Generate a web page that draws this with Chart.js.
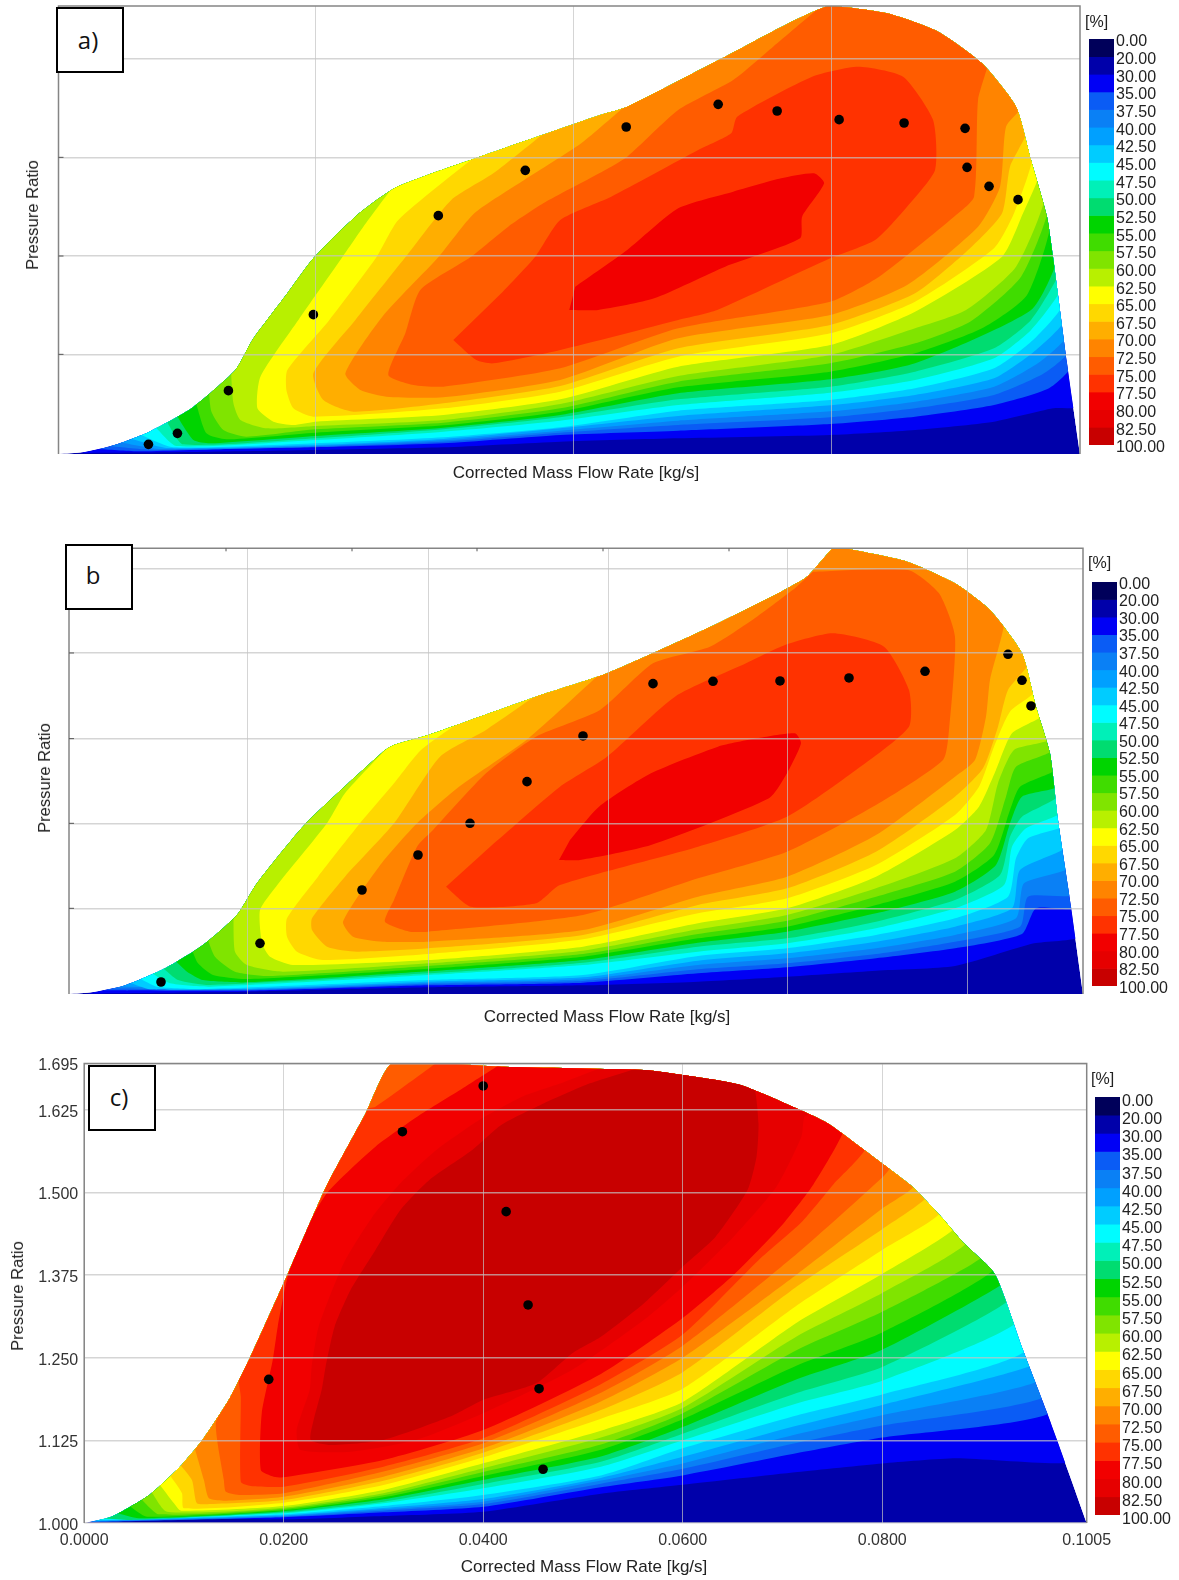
<!DOCTYPE html>
<html>
<head>
<meta charset="utf-8">
<title>Efficiency maps</title>
<script src="https://cdn.jsdelivr.net/npm/chart.js@4"></script>
<style>
  html, body { margin: 0; padding: 0; background: #fff; }
  body { position: relative; width: 1179px; height: 1580px; overflow: hidden; font-family: "Liberation Sans", Arial, sans-serif; }
  canvas { position: absolute; filter: blur(0.5px); }
  .cap { position: absolute; color: #222; font-size: 17px; white-space: nowrap; transform: translate(-50%, -50%); filter: blur(0.3px); }
  .cap.rot { font-size: 16.6px; transform: translate(-50%, -50%) rotate(-90deg); }
  .pct { position: absolute; color: #222; font-size: 16px; transform: translateY(-50%); filter: blur(0.3px); }
  .tag { position: absolute; box-sizing: border-box; background: #fff; border: 2px solid #000; font-family: "Open Sans", sans-serif; font-size: 24px; color: #111; }
  .tag span { position: absolute; transform: translate(-50%, -50%); }
</style>
</head>
<body>
<canvas id="mapA" width="1179" height="500" style="left:0;top:0"></canvas>
<canvas id="barA" width="90" height="446" style="left:1089px;top:19px"></canvas>
<canvas id="mapB" width="1179" height="500" style="left:0;top:530px"></canvas>
<canvas id="barB" width="90" height="444" style="left:1092px;top:562px"></canvas>
<canvas id="mapC" width="1179" height="540" style="left:0;top:1040px"></canvas>
<canvas id="barC" width="90" height="458" style="left:1095px;top:1077px"></canvas>

<div class="cap" style="left:576px;top:473px">Corrected Mass Flow Rate [kg/s]</div>
<div class="cap rot" style="left:33px;top:215px">Pressure Ratio</div>
<div class="pct" style="left:1085px;top:22px">[%]</div>
<div class="tag" style="left:56px;top:7px;width:68px;height:66px"><span style="left:30px;top:30px">a)</span></div>

<div class="cap" style="left:607px;top:1017px">Corrected Mass Flow Rate [kg/s]</div>
<div class="cap rot" style="left:45px;top:778px">Pressure Ratio</div>
<div class="pct" style="left:1088px;top:563px">[%]</div>
<div class="tag" style="left:65px;top:544px;width:68px;height:66px"><span style="left:26px;top:28px">b</span></div>

<div class="cap" style="left:584px;top:1567px">Corrected Mass Flow Rate [kg/s]</div>
<div class="cap rot" style="left:18px;top:1296px">Pressure Ratio</div>
<div class="pct" style="left:1091px;top:1079px">[%]</div>
<div class="tag" style="left:88px;top:1065px;width:68px;height:66px"><span style="left:29px;top:29px">c)</span></div>

<script>
// colour scale, one cell between each pair of labels
const levelLabels = ['0.00', '20.00', '30.00', '35.00', '37.50', '40.00', '42.50', '45.00', '47.50', '50.00', '52.50', '55.00', '57.50', '60.00', '62.50', '65.00', '67.50', '70.00', '72.50', '75.00', '77.50', '80.00', '82.50', '100.00'];
const levelColors = ['#00005a', '#0000aa', '#0000f5', '#0a5cf5', '#0a80f5', '#00a0ff', '#00ccff', '#00fcff', '#00f0b8', '#00dc70', '#00d400', '#40dc00', '#80e400', '#b8f000', '#ffff00', '#ffd800', '#ffae00', '#ff8400', '#ff5c00', '#ff3200', '#f20000', '#e60000', '#c80000'];

// contours are [mass flow, pressure ratio]. A first/last entry with only a mass flow sits on the map outline.

// ---- map a
const aGridX = [0.02575, 0.0515, 0.0773];
const aGridY = [1.1495, 1.297, 1.445, 1.593];
const aDots = [[.0090,1.0145],[.0119,1.031],[.0170,1.095],[.0255,1.209],[.0380,1.3575],[.0467,1.4255],[.0568,1.4905],[.0660,1.5245],[.0719,1.5145],[.0781,1.5015],[.0846,1.4965],[.0907,1.4885],[.0909,1.430],[.0931,1.4015],[.0960,1.3815]];
const aOutline = [[0,1],[.0024,1.0025],[.0056,1.0135],[.0091,1.0335],[.0133,1.0685],[.0177,1.126],[.0194,1.171],[.0229,1.241],[.0255,1.2935],[.0297,1.356],[.0338,1.400],[.0420,1.445],[.0542,1.5085],[.0569,1.521],[.0667,1.596],[.0770,1.672],[.0829,1.661],[.0880,1.6335],[.0924,1.586],[.0958,1.521],[.0973,1.441],[.0989,1.356],[.0995,1.296],[.1009,1.136],[.1022,1]];
const aL30 = [[.0028],[.0133,1.003],[.0257,1.006],[.0385,1.01],[.0502,1.0185],[.0620,1.0235],[.0772,1.0285],[.0857,1.036],[.0936,1.0485],[.0995,1.0685],[.1015]];
const aL35 = [[.0045],[.0079,1.004],[.0171,1.0075],[.0257,1.01],[.0385,1.016],[.0502,1.0285],[.0620,1.035],[.0772,1.045],[.0857,1.056],[.0936,1.0735],[.0991,1.0985],[.1009]];
const aL375 = [[.0057],[.0095,1.006],[.0257,1.011],[.0385,1.0185],[.0502,1.032],[.0620,1.0435],[.0772,1.055],[.0857,1.0685],[.0936,1.0885],[.0986,1.121],[.1007]];
const aL40 = [[.0067],[.0102,1.0075],[.0257,1.012],[.0385,1.0205],[.0502,1.035],[.0620,1.05],[.0772,1.064],[.0857,1.0785],[.0936,1.101],[.0982,1.1385],[.1005]];
const aL425 = [[.0077],[.0110,1.009],[.0257,1.0135],[.0385,1.0225],[.0502,1.0385],[.0620,1.057],[.0772,1.073],[.0857,1.0885],[.0936,1.1135],[.0978,1.156],[.1003]];
const aL45 = [[.0087],[.0115,1.010],[.0257,1.016],[.0385,1.025],[.0502,1.04],[.062,1.065],[.0772,1.081],[.0857,1.0985],[.0936,1.1285],[.0975,1.171],[.1001]];
const aL475 = [[.0102],[.0118,1.012],[.0257,1.021],[.0385,1.0335],[.0502,1.05],[.062,1.0735],[.0772,1.092],[.0857,1.111],[.0936,1.1435],[.0973,1.186],[.0999]];
const aL50 = [[.0113],[.0125,1.0145],[.0257,1.0235],[.0385,1.037],[.0502,1.055],[.062,1.082],[.0772,1.101],[.0857,1.1235],[.0936,1.1585],[.0973,1.201],[.0997]];
const aL525 = [[.0123],[.0135,1.021],[.0152,1.016],[.0257,1.027],[.0385,1.0395],[.0502,1.0585],[.062,1.091],[.0772,1.112],[.0857,1.136],[.0973,1.216],[.0995]];
const aL55 = [[.0142],[.0148,1.031],[.0168,1.022],[.0257,1.032],[.0385,1.043],[.0502,1.0635],[.062,1.10],[.0772,1.1235],[.0857,1.151],[.0924,1.1885],[.0969,1.2385],[.0989]];
const aL575 = [[.0155],[.0153,1.0635],[.0165,1.036],[.0188,1.026],[.0257,1.037],[.0385,1.047],[.0502,1.0685],[.062,1.1085],[.0772,1.136],[.0857,1.166],[.0912,1.1985],[.0963,1.266],[.0986]];
const aL60 = [[.0177],[.0175,1.076],[.0182,1.051],[.0208,1.0385],[.0257,1.042],[.0385,1.051],[.0502,1.075],[.062,1.117],[.0772,1.1485],[.0857,1.1885],[.0908,1.216],[.0958,1.281],[.0983]];
const aL625 = [[.0338],[.0305,1.341],[.0282,1.291],[.0240,1.201],[.0202,1.116],[.0199,1.0685],[.0215,1.0485],[.0235,1.0435],[.0257,1.0485],[.0385,1.0585],[.0502,1.082],[.062,1.131],[.0772,1.1635],[.0857,1.2135],[.0944,1.296],[.0965,1.361],[.0977]];
const aL65 = [[.0420],[.0340,1.351],[.0318,1.295],[.0271,1.201],[.0229,1.126],[.0228,1.096],[.0235,1.0685],[.0255,1.056],[.0385,1.0685],[.0502,1.0935],[.062,1.146],[.0772,1.181],[.0857,1.2285],[.0936,1.3085],[.0956,1.361],[.0971]];
const aL675 = [[.0489],[.0435,1.421],[.0393,1.381],[.0347,1.295],[.0297,1.201],[.0255,1.121],[.0265,1.081],[.0295,1.0635],[.0385,1.076],[.0502,1.102],[.062,1.1585],[.0772,1.1935],[.0857,1.241],[.0912,1.3085],[.0944,1.361],[.0952,1.431],[.0965]];
const aL70 = [[.0569],[.0523,1.466],[.0466,1.411],[.0416,1.361],[.0380,1.295],[.0324,1.206],[.0287,1.121],[.0302,1.096],[.0328,1.086],[.0385,1.085],[.0502,1.111],[.062,1.1735],[.0772,1.2085],[.0849,1.2535],[.0920,1.341],[.0942,1.401],[.0948,1.491],[.0959]];
const aL725 = [[.0758],[.0715,1.611],[.0675,1.561],[.062,1.516],[.0569,1.446],[.0541,1.421],[.0485,1.376],[.0450,1.341],[.0412,1.295],[.0362,1.246],[.0347,1.181],[.033,1.1185],[.0355,1.1035],[.0385,1.101],[.0502,1.1285],[.062,1.1885],[.0772,1.2285],[.0821,1.266],[.0896,1.356],[.0916,1.386],[.0920,1.531],[.0926]];
const aL75 = [[.0395,1.171],[.0418,1.141],[.0435,1.136],[.0502,1.156],[.062,1.201],[.0659,1.216],[.0772,1.2935],[.0817,1.321],[.0849,1.371],[.0877,1.426],[.0875,1.501],[.0845,1.566],[.08,1.581],[.0754,1.566],[.0679,1.506],[.0673,1.481],[.064,1.456],[.0553,1.386],[.0502,1.351],[.0477,1.296],[.0443,1.241]];
const aL775 = [[.0511,1.216],[.054,1.216],[.0596,1.2335],[.0667,1.281],[.0742,1.3235],[.0744,1.356],[.0766,1.406],[.0756,1.421],[.0723,1.4135],[.0675,1.3935],[.062,1.3685],[.0569,1.306],[.0517,1.251]];
const aBands = [aL30, aL35, aL375, aL40, aL425, aL45, aL475, aL50, aL525, aL55, aL575, aL60, aL625, aL65, aL675, aL70, aL725, aL75, aL775];

// ---- map b
const bGridX = [0.0179, 0.0359, 0.0539, 0.0718, 0.0898];
const bGridY = [1.1285, 1.256, 1.383, 1.5115, 1.6385];
const bTopTicks = [.0157, .0283, .0408, .0534, .0660];
const bDots = [[.0092,1.018],[.0191,1.076],[.0293,1.156],[.0349,1.2085],[.0401,1.256],[.0458,1.3185],[.0514,1.387],[.0584,1.4655],[.0644,1.469],[.0711,1.4695],[.0780,1.474],[.0856,1.484],[.0939,1.5095],[.0953,1.4705],[.0962,1.432]];
const bOutline = [[0,1],[.0023,1.0025],[.0057,1.0135],[.0096,1.0385],[.0134,1.0735],[.0168,1.1185],[.0188,1.166],[.0237,1.256],[.0314,1.3635],[.0325,1.3735],[.0359,1.3885],[.0467,1.446],[.0538,1.481],[.0649,1.556],[.0736,1.6235],[.0764,1.6685],[.0775,1.6685],[.0838,1.6485],[.0886,1.616],[.0921,1.576],[.0953,1.511],[.0967,1.431],[.0981,1.361],[.0989,1.261],[.1002,1.131],[.1014,1]];
const bL30 = [[.0025],[.0179,1.0035],[.0359,1.01],[.0514,1.013],[.0629,1.0185],[.0718,1.026],[.0807,1.035],[.0886,1.042],[.0965,1.076],[.1006]];
const bL35 = [[.004],[.0179,1.005],[.0359,1.013],[.0514,1.017],[.0629,1.031],[.0718,1.04],[.0807,1.0535],[.0886,1.0685],[.0953,1.09],[.0967,1.1285],[.1002]];
const bL375 = [[.0048],[.0179,1.006],[.0359,1.015],[.0514,1.0195],[.0629,1.037],[.0718,1.046],[.0807,1.06],[.0886,1.0785],[.0951,1.101],[.0959,1.146],[.1000]];
const bL40 = [[.0057],[.0179,1.007],[.0359,1.0165],[.0514,1.022],[.0629,1.0435],[.0718,1.0535],[.0807,1.0685],[.0886,1.0885],[.0947,1.1135],[.0955,1.166],[.0996]];
const bL425 = [[.0066],[.0081,1.007],[.0178,1.008],[.0359,1.0185],[.0514,1.025],[.0629,1.05],[.0718,1.061],[.0807,1.0785],[.0886,1.101],[.0943,1.1285],[.0951,1.186],[.0993]];
const bL45 = [[.0076],[.0088,1.011],[.0134,1.0075],[.0359,1.021],[.0514,1.0285],[.0629,1.057],[.0718,1.0685],[.0807,1.0885],[.0886,1.1135],[.0939,1.146],[.0947,1.2035],[.0959,1.2335],[.0990]];
const bL475 = [[.0088],[.0101,1.016],[.0141,1.011],[.0359,1.0285],[.0514,1.0435],[.0629,1.0635],[.0718,1.076],[.0807,1.0985],[.0886,1.1285],[.0935,1.1635],[.0943,1.221],[.0957,1.2485],[.0988]];
const bL50 = [[.0099],[.0109,1.021],[.0141,1.0135],[.0359,1.031],[.0514,1.047],[.0629,1.071],[.0718,1.0835],[.0807,1.1085],[.0886,1.141],[.0931,1.1785],[.0941,1.236],[.0953,1.266],[.0986]];
const bL525 = [[.0111],[.0118,1.0335],[.0134,1.021],[.0178,1.0175],[.0359,1.034],[.0514,1.051],[.0629,1.077],[.0718,1.0935],[.0807,1.121],[.0886,1.1535],[.0927,1.1935],[.0941,1.256],[.0953,1.296],[.0985]];
const bL55 = [[.0128],[.0129,1.046],[.0144,1.0285],[.0178,1.0225],[.0359,1.038],[.0514,1.056],[.0629,1.0835],[.0718,1.101],[.0807,1.1335],[.0886,1.1685],[.0925,1.2085],[.0941,1.276],[.0951,1.311],[.0983]];
const bL575 = [[.0143],[.0146,1.056],[.0166,1.0335],[.0201,1.027],[.0359,1.042],[.0514,1.06],[.0629,1.09],[.0718,1.11],[.0807,1.146],[.0886,1.1835],[.0921,1.226],[.0937,1.296],[.0947,1.341],[.0980]];
const bL60 = [[.0169],[.0166,1.0635],[.0178,1.0435],[.0214,1.0335],[.0359,1.046],[.0514,1.065],[.0629,1.097],[.0718,1.1185],[.0807,1.1585],[.0886,1.2035],[.0917,1.246],[.0929,1.316],[.0945,1.366],[.0977]];
const bL625 = [[.0325],[.0276,1.301],[.0258,1.256],[.0207,1.161],[.0191,1.126],[.0193,1.076],[.0201,1.056],[.0224,1.0435],[.0359,1.051],[.0514,1.071],[.0629,1.106],[.0718,1.1285],[.0807,1.176],[.0886,1.246],[.091,1.281],[.0927,1.336],[.0943,1.391],[.0970]];
const bL65 = [[.0394],[.0352,1.366],[.0325,1.316],[.0291,1.256],[.0249,1.176],[.0218,1.1135],[.0218,1.086],[.0228,1.0635],[.0254,1.051],[.0359,1.06],[.0514,1.082],[.0629,1.121],[.0718,1.1435],[.0807,1.1935],[.0886,1.2685],[.091,1.311],[.0925,1.371],[.0941,1.4235],[.0963]];
const bL675 = [[.0471],[.0417,1.396],[.0371,1.356],[.0325,1.256],[.0276,1.176],[.0243,1.1135],[.0243,1.096],[.0258,1.071],[.0288,1.0635],[.0359,1.0685],[.0514,1.0885],[.0629,1.1335],[.0718,1.1585],[.0807,1.2135],[.0886,1.296],[.0914,1.3385],[.0929,1.401],[.0939,1.456],[.0956]];
const bL70 = [[.0532],[.0459,1.383],[.039,1.311],[.0348,1.256],[.031,1.191],[.0274,1.1085],[.0284,1.086],[.0314,1.0785],[.0359,1.0785],[.0514,1.096],[.0629,1.146],[.0718,1.176],[.0807,1.2385],[.0886,1.326],[.0906,1.351],[.0917,1.416],[.0921,1.471],[.0931]];
const bL725 = [[.0726,1.6085],[.0688,1.566],[.0641,1.521],[.0584,1.496],[.0531,1.426],[.0467,1.386],[.0417,1.331],[.0364,1.246],[.0348,1.221],[.0325,1.141],[.0316,1.1085],[.0341,1.0935],[.0359,1.0935],[.0514,1.1185],[.0629,1.1735],[.0718,1.2135],[.0807,1.2835],[.0874,1.351],[.088,1.396],[.0886,1.536],[.087,1.601],[.0839,1.636],[.0744,1.6335]];
const bL75 = [[.0377,1.161],[.0402,1.131],[.0467,1.136],[.0491,1.1635],[.0629,1.221],[.0718,1.266],[.0787,1.336],[.084,1.401],[.084,1.456],[.0815,1.521],[.0764,1.541],[.0716,1.5235],[.0677,1.496],[.0606,1.446],[.0538,1.356],[.0491,1.311],[.0425,1.226]];
const bL775 = [[.049,1.201],[.0511,1.201],[.0582,1.2235],[.07,1.2935],[.0718,1.331],[.0732,1.376],[.0726,1.391],[.0688,1.3835],[.0649,1.371],[.0582,1.331],[.053,1.281],[.0501,1.231]];
const bBands = [bL30, bL35, bL375, bL40, bL425, bL45, bL475, bL50, bL525, bL55, bL575, bL60, bL625, bL65, bL675, bL70, bL725, bL75, bL775];

// ---- map c
const cTicksX = [0, 0.02, 0.04, 0.06, 0.08, 0.1005];
const cTicksY = [1, 1.125, 1.25, 1.375, 1.5, 1.625, 1.695];
const cDots = [[.0185,1.2172],[.0319,1.5917],[.04,1.6609],[.0423,1.4708],[.0445,1.3297],[.0456,1.2031],[.046,1.0813]];
const cOutline = [[0,1],[.0027,1.0094],[.0066,1.0432],[.0096,1.0849],[.0119,1.1266],[.0146,1.1891],[.0165,1.2464],[.0204,1.3766],[.0242,1.5068],[.0281,1.6161],[.0308,1.695],[.036,1.695],[.0421,1.69],[.0561,1.685],[.06,1.6774],[.0658,1.6623],[.0729,1.617],[.0747,1.603],[.0798,1.546],[.083,1.509],[.0858,1.465],[.0882,1.423],[.0913,1.3766],[.0941,1.262],[.0965,1.168],[.0975,1.1266],[.1005,1]];
const cL30 = [[.0027],[.02,1.0055],[.03,1.0106],[.04,1.0171],[.0518,1.0443],[.06,1.0578],[.0715,1.0771],[.08,1.0901],[.0874,1.0979],[.0983]];
const cL35 = [[.001],[.02,1.0086],[.03,1.0161],[.04,1.0247],[.0518,1.0542],[.06,1.072],[.0715,1.1057],[.08,1.1292],[.0965]];
const cL375 = [[.0012],[.02,1.0096],[.03,1.0187],[.04,1.0287],[.0518,1.0594],[.06,1.082],[.0715,1.1214],[.08,1.1474],[.0959]];
const cL40 = [[.0014],[.02,1.0106],[.03,1.0207],[.04,1.0323],[.0518,1.0641],[.06,1.09],[.0715,1.1344],[.08,1.163],[.0953]];
const cL425 = [[.0016],[.02,1.0116],[.03,1.0227],[.04,1.0363],[.0518,1.0682],[.06,1.10],[.0715,1.1474],[.08,1.1786],[.0947]];
const cL45 = [[.0019],[.02,1.0131],[.03,1.0257],[.04,1.0424],[.0518,1.0719],[.06,1.113],[.0715,1.163],[.08,1.1943],[.0941]];
const cL475 = [[.0022],[.02,1.0146],[.03,1.0298],[.04,1.0524],[.0518,1.0849],[.06,1.125],[.0715,1.1812],[.08,1.2151],[.0931]];
const cL50 = [[.0027],[.0047,1.0045],[.02,1.0161],[.03,1.0323],[.04,1.059],[.0518,1.0927],[.06,1.135],[.0715,1.1969],[.08,1.2359],[.0923]];
const cL525 = [[.0037],[.0055,1.0071],[.02,1.0177],[.03,1.0358],[.04,1.0651],[.0518,1.1005],[.06,1.145],[.0715,1.2177],[.08,1.262],[.0917]];
const cL55 = [[.005],[.0063,1.0096],[.02,1.0192],[.03,1.0388],[.04,1.0711],[.0518,1.1109],[.06,1.157],[.0715,1.2385],[.08,1.288],[.0909]];
const cL575 = [[.0062],[.0075,1.0131],[.02,1.0212],[.03,1.0419],[.04,1.0772],[.0518,1.1188],[.06,1.166],[.0715,1.262],[.08,1.3193],[.0897]];
const cL60 = [[.0072],[.0083,1.0171],[.02,1.0232],[.03,1.0449],[.04,1.0827],[.0518,1.1292],[.06,1.174],[.0715,1.2828],[.08,1.3479],[.0882]];
const cL625 = [[.008],[.009,1.0298],[.0097,1.0187],[.02,1.0257],[.03,1.0499],[.04,1.0903],[.0518,1.1396],[.06,1.183],[.0715,1.3036],[.08,1.3766],[.087]];
const cL65 = [[.009],[.0098,1.0449],[.01,1.0222],[.02,1.0308],[.03,1.0575],[.04,1.0993],[.0518,1.1578],[.06,1.203],[.0715,1.3297],[.08,1.413],[.0856]];
const cL675 = [[.01],[.0108,1.0651],[.0113,1.0298],[.0127,1.0287],[.02,1.0348],[.03,1.064],[.04,1.1064],[.0518,1.1708],[.06,1.228],[.0715,1.3583],[.08,1.4443],[.0842]];
const cL70 = [[.0115],[.012,1.0651],[.0125,1.0373],[.014,1.0338],[.02,1.0398],[.03,1.0701],[.04,1.113],[.0518,1.1839],[.06,1.25],[.0715,1.3766],[.08,1.4755],[.083]];
const cL725 = [[.0307],[.0281,1.6161],[.0242,1.5068],[.0204,1.3766],[.0165,1.2464],[.0146,1.1891],[.0132,1.1508],[.014,1.0651],[.0142,1.0474],[.0157,1.0424],[.02,1.0449],[.03,1.0777],[.04,1.1205],[.0518,1.1969],[.06,1.268],[.0715,1.4078],[.08,1.5224],[.0806]];
const cL75 = [[.036],[.0292,1.6295],[.028,1.6245],[.0242,1.5068],[.0204,1.3766],[.0165,1.2464],[.0155,1.22],[.0157,1.1911],[.0157,1.0625],[.0167,1.056],[.02,1.055],[.03,1.0852],[.04,1.1281],[.0518,1.2099],[.06,1.285],[.0676,1.3974],[.0719,1.4547],[.0751,1.512],[.0781]];
const cL775 = [[.0421],[.0382,1.6598],[.0339,1.6195],[.0292,1.5691],[.0244,1.5],[.022,1.438],[.0204,1.3725],[.0194,1.2969],[.0189,1.2465],[.0178,1.1659],[.0177,1.0802],[.019,1.0701],[.02,1.0691],[.03,1.0953],[.04,1.1407],[.0518,1.2255],[.06,1.31],[.0652,1.3766],[.0699,1.4495],[.0731,1.512],[.0759]];
const cL80 = [[.0525],[.0482,1.6673],[.0439,1.6447],[.0396,1.6094],[.0353,1.564],[.0317,1.5136],[.0289,1.4632],[.026,1.3926],[.0235,1.2969],[.0228,1.2364],[.0226,1.2011],[.0213,1.1407],[.0217,1.1104],[.0267,1.1079],[.0333,1.1256],[.04,1.1659],[.0489,1.2313],[.0561,1.3069],[.06,1.3573],[.0651,1.4329],[.0694,1.5086],[.0719,1.5842],[.0722,1.6144],[.0729]];
const cL825 = [[.0561],[.0507,1.6648],[.0461,1.6346],[.0418,1.6018],[.0389,1.564],[.0346,1.5187],[.0317,1.4733],[.0292,1.4128],[.0267,1.3523],[.0251,1.2969],[.0242,1.2364],[.0238,1.2011],[.023,1.1558],[.0227,1.1256],[.0247,1.118],[.03,1.1256],[.0367,1.1609],[.04,1.1861],[.0453,1.2112],[.0489,1.2565],[.0518,1.2817],[.0561,1.3321],[.06,1.3876],[.0633,1.4329],[.0665,1.5035],[.0674,1.5539],[.0676,1.6043],[.067]];
const cBands = [cL30, cL35, cL375, cL40, cL425, cL45, cL475, cL50, cL525, cL55, cL575, cL60, cL625, cL65, cL675, cL70, cL725, cL75, cL775, cL80, cL825];

function outlineY(outline, x) {
    for (let i = 1; i < outline.length; i++) {
        const [x0, y0] = outline[i - 1];
        const [x1, y1] = outline[i];
        if (x <= x1) return y0 + (y1 - y0) * (x - x0) / (x1 - x0);
    }
    return 1;
}

// nudge a point just past the outline, the clip below trims it back
function pushOut(p) {
    return [0.055 + (p[0] - 0.055) * 1.012, 1.2 + (p[1] - 1.2) * 1.012];
}

// close a contour: either it is already a loop, or it runs back along the outline
function bandPoints(curve, outline) {
    let pts = curve;
    if (curve[0].length === 1) {
        const a = curve[0][0];
        const b = curve[curve.length - 1][0];
        const back = outline.filter(p => p[0] > a && p[0] < b).reverse();
        pts = [pushOut([a, outlineY(outline, a)]), ...curve.slice(1, -1), pushOut([b, outlineY(outline, b)]), ...back.map(pushOut)];
    }
    return pts.map(p => ({ x: p[0], y: p[1] }));
}

const frame = {
    id: 'frame',
    afterDraw(chart, args, opts) {
        const { ctx, chartArea: a, scales } = chart;
        ctx.save();
        ctx.strokeStyle = '#858585';
        ctx.lineWidth = 1.5;
        ctx.beginPath();
        ctx.moveTo(a.left, a.bottom);
        ctx.lineTo(a.left, a.top);
        ctx.lineTo(a.right, a.top);
        ctx.lineTo(a.right, a.bottom);
        ctx.stroke();
        // short dark ticks inside the frame
        ctx.strokeStyle = '#555';
        ctx.lineWidth = 1;
        ctx.beginPath();
        if (opts.leftTicks) {
            scales.y.ticks.forEach(t => {
                const y = scales.y.getPixelForValue(t.value);
                ctx.moveTo(a.left, y);
                ctx.lineTo(a.left + 5, y);
            });
        }
        (opts.topTicks || []).forEach(v => {
            const x = scales.x.getPixelForValue(v);
            ctx.moveTo(x, a.top);
            ctx.lineTo(x, a.top + 3);
        });
        ctx.stroke();
        ctx.restore();
    }
};

// keep the contour fills inside the outline (dataset 0), dots stay unclipped
function outlineClip(lastBand) {
    return {
        id: 'outlineClip',
        beforeDatasetsDraw(chart) {
            const line = chart.getDatasetMeta(0).dataset;
            line.updateControlPoints(chart.chartArea);
            chart.ctx.save();
            chart.ctx.beginPath();
            line.path(chart.ctx);
            chart.ctx.clip();
        },
        afterDatasetDraw(chart, args) {
            if (args.index === lastBand) chart.ctx.restore();
        }
    };
}

function drawMap(id, cfg) {
    const datasets = [];
    const all = [cfg.outline, ...cfg.bands];
    all.forEach((curve, i) => {
        datasets.push({
            data: i === 0 ? curve.map(p => ({ x: p[0], y: p[1] })) : bandPoints(curve, cfg.outline),
            showLine: true,
            fill: 'shape',
            tension: 0.2,
            borderWidth: 0,
            pointRadius: 0,
            backgroundColor: levelColors[i + 1],
            order: all.length - i
        });
    });
    datasets.push({
        data: cfg.dots.map(d => ({ x: d[0], y: d[1] })),
        pointRadius: 4.8,
        pointBackgroundColor: '#000',
        pointBorderWidth: 0,
        showLine: false,
        order: 0
    });

    new Chart(document.getElementById(id), {
        type: 'scatter',
        data: { datasets },
        plugins: [outlineClip(all.length - 1), frame],
        options: {
            responsive: false,
            animation: false,
            layout: { padding: { top: cfg.top, right: 1179 - cfg.right, left: 0, bottom: 0 } },
            plugins: {
                legend: { display: false },
                tooltip: { enabled: false },
                frame: { leftTicks: !cfg.labels, topTicks: cfg.topTicks }
            },
            scales: {
                x: {
                    min: 0, max: cfg.maxX,
                    afterBuildTicks: s => { s.ticks = cfg.ticksX.map(v => ({ value: v })); },
                    afterFit: s => { s.height = cfg.height - cfg.bottom; },
                    grid: { z: 1, color: 'rgba(195,195,195,0.7)', lineWidth: 1, drawTicks: false },
                    border: { display: false },
                    ticks: {
                        display: cfg.labels, autoSkip: false, maxRotation: 0, padding: 8, color: '#333',
                        font: { family: 'Liberation Sans', size: 16 },
                        callback: v => v.toFixed(4)
                    }
                },
                y: {
                    min: 1, max: cfg.maxY,
                    afterBuildTicks: s => { s.ticks = cfg.ticksY.map(v => ({ value: v })); },
                    afterFit: s => { s.width = cfg.left; },
                    grid: { z: 1, color: 'rgba(195,195,195,0.7)', lineWidth: 1.4, drawTicks: false },
                    border: { display: false },
                    ticks: {
                        display: cfg.labels, autoSkip: false, padding: 6, labelOffset: 2.5, color: '#333',
                        font: { family: 'Liberation Sans', size: 16 },
                        callback: v => v.toFixed(3)
                    }
                }
            }
        }
    });
}

function drawColorBar(id, top, bottom, labelShift) {
    const datasets = levelColors.map(c => ({ data: [1], backgroundColor: c, borderWidth: 0, barPercentage: 1, categoryPercentage: 1 }));
    new Chart(document.getElementById(id), {
        type: 'bar',
        data: { labels: ['%'], datasets },
        options: {
            responsive: false,
            animation: false,
            layout: { padding: { top, bottom } },
            plugins: { legend: { display: false }, tooltip: { enabled: false } },
            scales: {
                x: { stacked: true, display: false },
                y: {
                    stacked: true, reverse: true, position: 'right', min: 0, max: levelColors.length,
                    afterBuildTicks: s => { s.ticks = levelLabels.map((l, i) => ({ value: i })); },
                    afterFit: s => { s.width = 65; },
                    grid: { display: false, drawTicks: false },
                    border: { display: false },
                    ticks: {
                        autoSkip: false, padding: 2, labelOffset: labelShift, color: '#222',
                        font: { family: 'Liberation Sans', size: 16 },
                        callback: v => levelLabels[v]
                    }
                }
            }
        }
    });
}

drawMap('mapA', { outline: aOutline, bands: aBands, dots: aDots, ticksX: aGridX, ticksY: aGridY, maxX: 0.1022, maxY: 1.672, left: 58.5, right: 1080, top: 6, bottom: 454, height: 500, labels: false });
drawMap('mapB', { outline: bOutline, bands: bBands, dots: bDots, ticksX: bGridX, ticksY: bGridY, topTicks: bTopTicks, maxX: 0.1014, maxY: 1.6685, left: 69, right: 1083, top: 18.3, bottom: 464, height: 500, labels: false });
drawMap('mapC', { outline: cOutline, bands: cBands, dots: cDots, ticksX: cTicksX, ticksY: cTicksY, maxX: 0.1005, maxY: 1.695, left: 84.2, right: 1086.7, top: 23.4, bottom: 483, height: 540, labels: true });

drawColorBar('barA', 20, 20, 3);
drawColorBar('barB', 20, 20, 2.3);
drawColorBar('barC', 20, 20, 4.5);
</script>
</body>
</html>
